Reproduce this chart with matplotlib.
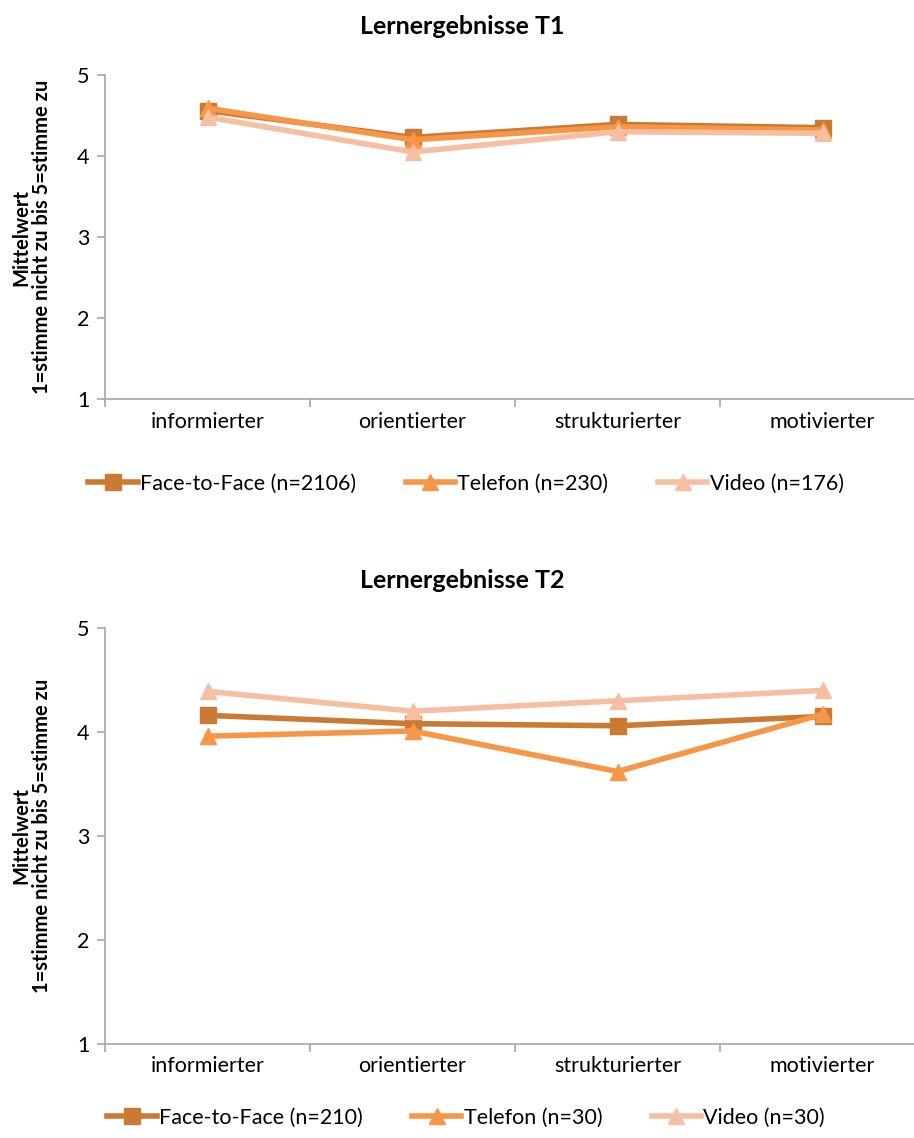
import matplotlib.pyplot as plt

plt.rcParams['font.family'] = ['Lato', 'DejaVu Sans']

categories = ["informierter", "orientierter", "strukturierter", "motivierter"]

# T1 means
t1_f2f = [4.56, 4.23, 4.39, 4.35]
t1_tel = [4.59, 4.20, 4.36, 4.32]
t1_vid = [4.48, 4.05, 4.30, 4.28]
t1_labels = ["Face-to-Face (n=2106)", "Telefon (n=230)", "Video (n=176)"]

# T2 means
t2_f2f = [4.16, 4.08, 4.06, 4.15]
t2_tel = [3.96, 4.01, 3.62, 4.17]
t2_vid = [4.39, 4.20, 4.30, 4.40]
t2_labels = ["Face-to-Face (n=210)", "Telefon (n=30)", "Video (n=30)"]

colors = ["#CB7A34", "#F79646", "#F7BFA1"]
markers = ["s", "^", "^"]

fig = plt.figure(figsize=(9.14, 11.38), dpi=100)
W, H = 914, 1138


def draw_panel(rect, series, labels, title, title_y, legend_y):
    ax = fig.add_axes(rect)
    x = range(len(categories))
    handles = []
    for vals, c, m, lab in zip(series, colors, markers, labels):
        h, = ax.plot(x, vals, color=c, lw=4, marker=m, markersize=11,
                     markeredgecolor=c, label=lab)
        handles.append(h)
    ax.set_xlim(-0.5, 3.5)
    ax.set_ylim(1, 5)
    ax.set_yticks([1, 2, 3, 4, 5])
    ax.set_xticks([-0.5, 0.5, 1.5, 2.5, 3.5])
    ax.set_xticklabels([])
    ax.set_xticks(list(x), minor=True)
    ax.set_xticklabels(categories, minor=True, fontsize=15.5)
    ax.tick_params(axis='x', which='minor', length=0, pad=9)
    ax.tick_params(axis='x', which='major', length=6, color='#A6A6A6', width=1.2)
    ax.tick_params(axis='y', length=6, color='#A6A6A6', width=1.2, labelsize=15.5, pad=5)
    for s in ['top', 'right']:
        ax.spines[s].set_visible(False)
    for s in ['left', 'bottom']:
        ax.spines[s].set_color('#A6A6A6')
        ax.spines[s].set_linewidth(1.2)
    ax.set_ylabel("Mittelwert\n1=stimme nicht zu bis 5=stimme zu",
                  fontsize=14.5, fontweight='bold', labelpad=18, linespacing=1.05)
    fig.text(462 / W, 1 - title_y / H, title, ha='center', va='center',
             fontsize=18, fontweight='bold')
    fig.legend(handles=handles, loc='center', ncol=3,
               bbox_to_anchor=(466 / W, 1 - legend_y / H), frameon=False,
               fontsize=15.5, handlelength=2.3, handletextpad=0.1,
               columnspacing=2.3)
    return ax


draw_panel([105 / W, 1 - 399 / H, 820 / W, 324 / H],
           [t1_f2f, t1_tel, t1_vid], t1_labels, "Lernergebnisse T1", 27, 484)
draw_panel([105 / W, 1 - 1044 / H, 820 / W, 416 / H],
           [t2_f2f, t2_tel, t2_vid], t2_labels, "Lernergebnisse T2", 580, 1118)

fig.savefig("out.png", dpi=100)
